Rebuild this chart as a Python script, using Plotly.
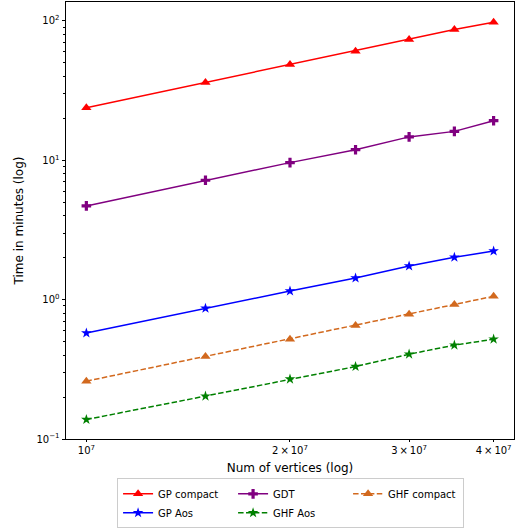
import plotly.graph_objects as go

vertices = [1e7, 1.5e7, 2e7, 2.5e7, 3e7, 3.5e7, 4e7]

gp_compact = [23.8, 36.1, 48.6, 60.6, 73.5, 86.6, 97.7]
gdt = [4.70, 7.18, 9.61, 11.9, 14.7, 16.1, 19.2]
gp_aos = [0.576, 0.867, 1.152, 1.428, 1.74, 2.01, 2.23]
ghf_compact = [0.260, 0.391, 0.520, 0.651, 0.785, 0.921, 1.056]
ghf_aos = [0.138, 0.203, 0.269, 0.331, 0.406, 0.471, 0.520]

x_tickvals = [1e7, 2e7, 3e7, 4e7]
x_ticktext = ["10<sup>7</sup>", "2\u2009×\u200910<sup>7</sup>", "3\u2009×\u200910<sup>7</sup>", "4\u2009×\u200910<sup>7</sup>"]
y_tickvals = [0.1, 1, 10, 100]
y_ticktext = ["10<sup>\u22121</sup>", "10<sup>0</sup>", "10<sup>1</sup>", "10<sup>2</sup>"]

series = [
    ("GP compact", gp_compact, "red", "triangle-up", "solid", 9),
    ("GDT", gdt, "purple", "cross", "solid", 8),
    ("GHF compact", ghf_compact, "#D2691E", "triangle-up", "dash", 9),
    ("GP Aos", gp_aos, "blue", "star", "solid", 8),
    ("GHF Aos", ghf_aos, "green", "star", "dash", 8),
]

fig = go.Figure()
for name, ys, color, sym, dash, size in series:
    fig.add_trace(go.Scatter(
        x=vertices, y=ys, name=name, mode="lines+markers",
        line=dict(color=color, width=1.5, dash="solid" if dash == "solid" else "5.5px,2.4px"),
        marker=dict(symbol=sym, size=size, color=color, line=dict(width=0)),
    ))

font = "DejaVu Sans, sans-serif"
fig.update_layout(
    width=519, height=529,
    margin=dict(l=66, r=5, t=2, b=90, autoexpand=False),
    paper_bgcolor="white", plot_bgcolor="white",
    font=dict(family=font, size=10, color="black"),
    showlegend=True,
    legend=dict(
        orientation="h", x=0.114, y=-0.09, xanchor="left", yanchor="top",
        bordercolor="#cccccc", borderwidth=1, font=dict(size=10),
        traceorder="normal", entrywidth=70,
    ),
)
fig.update_xaxes(
    type="log", range=[6.9699, 7.6322], automargin=False,
    tickvals=x_tickvals, ticktext=x_ticktext,
    ticks="outside", ticklen=2, tickcolor="black",
    showgrid=False, zeroline=False,
    showline=True, linecolor="black", linewidth=1, mirror=True,
    title=dict(text="Num of vertices (log)", standoff=8),
)
fig.update_yaxes(
    type="log", range=[-1.0, 2.135], automargin=False,
    tickvals=y_tickvals, ticktext=y_ticktext,
    ticks="outside", ticklen=3.5, tickcolor="black",
    minor=dict(ticks="outside", ticklen=2, dtick="D1", tickcolor="black", showgrid=False),
    showgrid=False, zeroline=False,
    showline=True, linecolor="black", linewidth=1, mirror=True,
    title=dict(text="Time in minutes (log)", standoff=10),
)

fig.write_html(
    "out.html",
    config={"displayModeBar": False},
    post_script="document.body.style.margin='0';document.body.style.overflow='hidden';",
)
